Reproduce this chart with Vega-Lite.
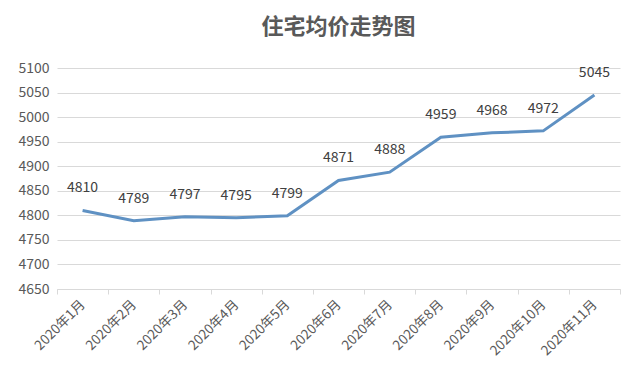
{
  "$schema": "https://vega.github.io/schema/vega-lite/v6.json",
  "width": 563,
  "height": 221,
  "autosize": {"type": "none"},
  "padding": {"left": 57, "top": 68, "right": 20, "bottom": 96},
  "background": "white",
  "title": {
    "text": "住宅均价走势图",
    "font": "Noto Sans CJK SC",
    "fontSize": 22,
    "fontWeight": "bold",
    "color": "#595959",
    "offset": 22,
    "anchor": "middle"
  },
  "data": {
    "values": [
      {"month": "2020年1月", "price": 4810},
      {"month": "2020年2月", "price": 4789},
      {"month": "2020年3月", "price": 4797},
      {"month": "2020年4月", "price": 4795},
      {"month": "2020年5月", "price": 4799},
      {"month": "2020年6月", "price": 4871},
      {"month": "2020年7月", "price": 4888},
      {"month": "2020年8月", "price": 4959},
      {"month": "2020年9月", "price": 4968},
      {"month": "2020年10月", "price": 4972},
      {"month": "2020年11月", "price": 5045}
    ]
  },
  "encoding": {
    "x": {
      "field": "month",
      "type": "ordinal",
      "sort": null,
      "scale": {"type": "band", "paddingInner": 0, "paddingOuter": 0},
      "axis": {
        "title": null,
        "labelAngle": -45,
        "labelAlign": "right",
        "labelBaseline": "middle",
        "labelFont": "Noto Sans CJK SC",
        "labelFontSize": 13.5,
        "labelColor": "#595959",
        "labelPadding": 8,
        "domainColor": "#d9d9d9",
        "tickColor": "#d9d9d9",
        "tickBand": "extent",
        "tickSize": 5,
        "grid": false
      }
    },
    "y": {
      "field": "price",
      "type": "quantitative",
      "scale": {"domain": [4650, 5100], "nice": false, "zero": false},
      "axis": {
        "title": null,
        "format": "d",
        "values": [4650, 4700, 4750, 4800, 4850, 4900, 4950, 5000, 5050, 5100],
        "labelFont": "Noto Sans CJK SC",
        "labelFontSize": 14,
        "labelColor": "#595959",
        "labelPadding": 8,
        "domain": false,
        "ticks": false,
        "grid": true,
        "gridColor": "#d9d9d9"
      }
    }
  },
  "layer": [
    {
      "mark": {"type": "line", "color": "#5f91c3", "strokeWidth": 3}
    },
    {
      "mark": {
        "type": "text",
        "dy": -22,
        "font": "Noto Sans CJK SC",
        "fontSize": 14,
        "color": "#404040"
      },
      "encoding": {"text": {"field": "price", "type": "quantitative", "format": "d"}}
    }
  ],
  "config": {"view": {"stroke": null}}
}
